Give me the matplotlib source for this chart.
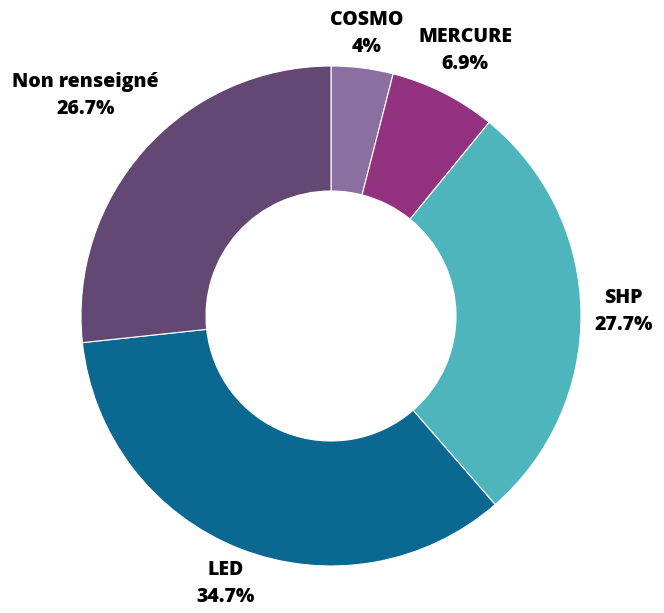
import numpy as np
import matplotlib.pyplot as plt

categories = ["COSMO", "MERCURE", "SHP", "LED", "Non renseigné"]
values = [4.0, 6.9, 27.7, 34.7, 26.7]
value_labels = ["4%", "6.9%", "27.7%", "34.7%", "26.7%"]
colors = ["#8b6fa0", "#93327f", "#4fb5bc", "#0b6891", "#644874"]

# label distance from center, relative to outer radius
label_radius = [1.14, 1.19, 1.17, 1.15, 1.32]

plt.rcParams['font.family'] = ['Open Sans', 'DejaVu Sans']

fig = plt.figure(figsize=(6.64, 6.13), dpi=100)
ax = fig.add_axes([0, 0, 1, 1])

wedges, _ = ax.pie(values, colors=colors, startangle=90, counterclock=False,
                   radius=1.0, wedgeprops=dict(width=0.5, edgecolor="white", linewidth=0.8))

for w, cat, lab, r in zip(wedges, categories, value_labels, label_radius):
    ang = np.deg2rad((w.theta1 + w.theta2) / 2)
    ax.text(r * np.cos(ang), r * np.sin(ang), f"{cat}\n{lab}", ha="center", va="center",
            fontsize=14, fontweight=800, linespacing=1.45, color="black")

# place circle center at pixel (331, 316), radius 250px
sx = 250 / 664
sy = 250 / 613
cx = 331 / 664
cy = 1 - 316 / 613
ax.set_xlim(-cx / sx, (1 - cx) / sx)
ax.set_ylim(-cy / sy, (1 - cy) / sy)
ax.set_aspect("auto")
ax.axis("off")

fig.savefig("out.png", dpi=100)
